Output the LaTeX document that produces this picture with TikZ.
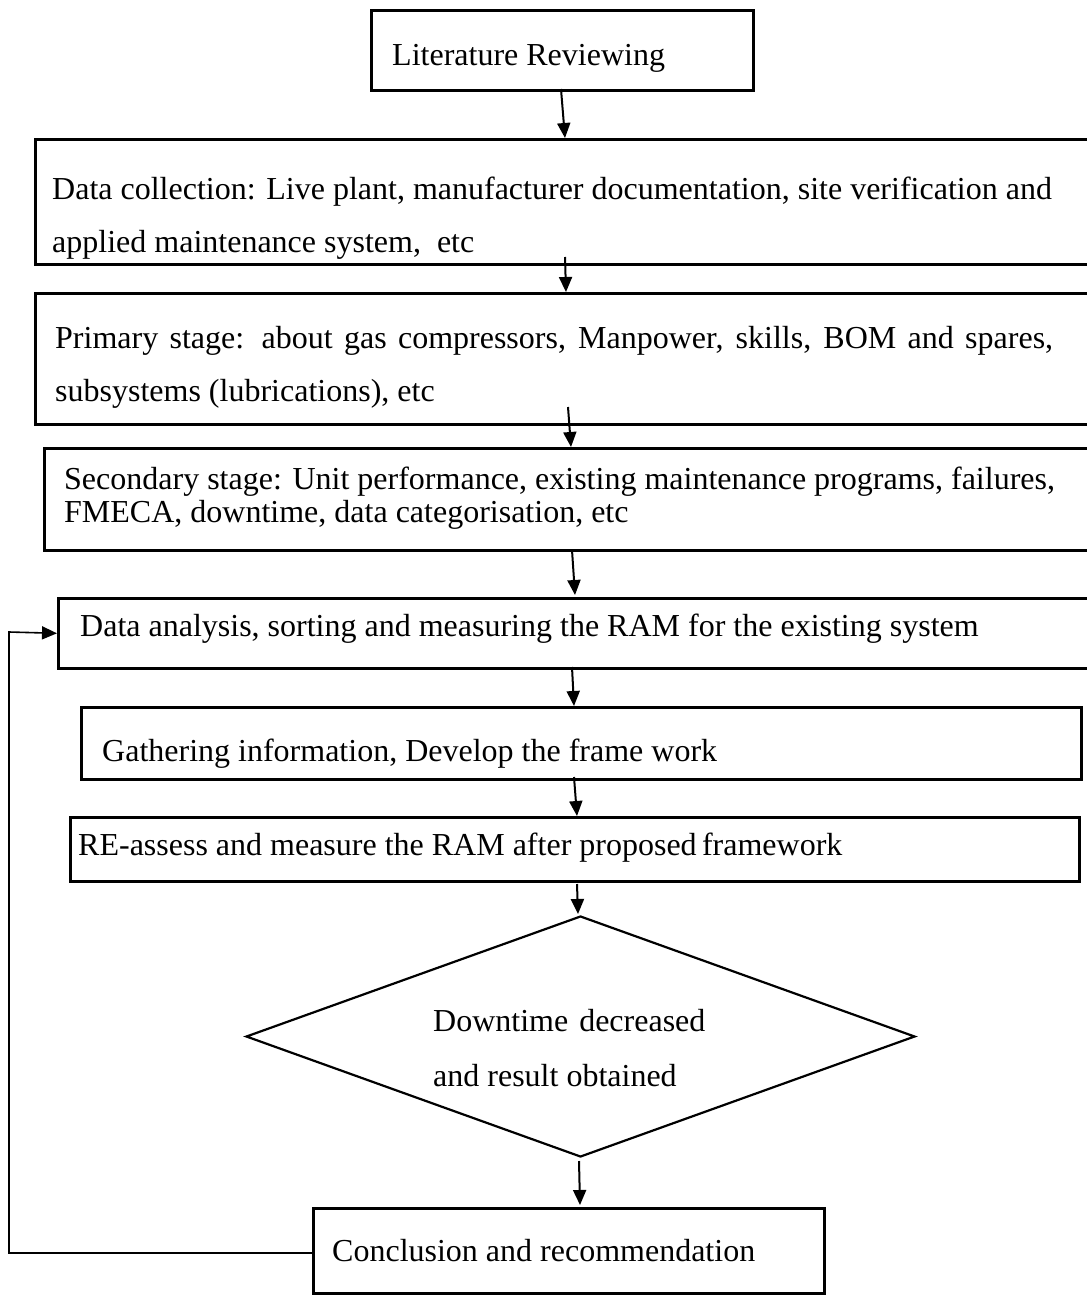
\documentclass[tikz,border=0pt]{standalone}
\usepackage{fontspec}
\setmainfont{Liberation Serif}
\usetikzlibrary{arrows.meta,shapes.geometric}
\begin{document}
\begin{tikzpicture}[x=1pt,y=-1pt,
  box/.style={draw,line width=2.6pt,rectangle,anchor=north west,inner sep=0pt},
  txt/.style={anchor=base west,inner sep=0pt,align=left,font=\fontsize{32}{53}\selectfont},
  tight/.style={font=\fontsize{32}{33}\selectfont},
  arr/.style={line width=2pt,-{Triangle[length=15pt,width=13pt]}},
  loop/.style={line width=1.6pt,-{Triangle[length=15pt,width=13pt]}}
]
\useasboundingbox (0,0) rectangle (1087,1296);
\clip (0,0) rectangle (1087,1296);

% process boxes
\node[box,minimum width=382pt,minimum height=80pt]  (b1) at (370,9)   {};
\node[box,minimum width=1066pt,minimum height=125pt] (b2) at (34,138)  {};
\node[box,minimum width=1066pt,minimum height=131pt] (b3) at (34,292)  {};
\node[box,minimum width=1057pt,minimum height=102pt] (b4) at (43,447)  {};
\node[box,minimum width=1043pt,minimum height=70pt]  (b5) at (57,597)  {};
\node[box,minimum width=1000pt,minimum height=72pt]  (b6) at (80,706)  {};
\node[box,minimum width=1009pt,minimum height=64pt]  (b7) at (69,816)  {};
\node[draw,diamond,line width=2.2pt,inner sep=0pt,minimum width=669pt,minimum height=241pt] (d) at (580.5,1036.5) {};
\node[box,minimum width=511pt,minimum height=85pt]  (b8) at (312,1207) {};

% box texts (multi-line nodes sit on the baseline of their last line)
\node[txt] (t1) at (392,65)  {Literature Reviewing};
\node[txt] (t2) at (52,252)  {Data collection: Live plant, manufacturer documentation, site verification and\\applied maintenance system,\ \ etc};
\node[txt] (t3) at (55,401)  {\makebox[998pt][s]{Primary stage: about gas compressors, Manpower, skills, BOM and spares,}\\subsystems (lubrications), etc};
\node[txt,tight] (t4) at (64,522) {Secondary stage: Unit performance, existing maintenance programs, failures,\\FMECA, downtime, data categorisation, etc};
\node[txt] (t5) at (80,636)  {Data analysis, sorting and measuring the RAM for the existing system};
\node[txt] (t6) at (102,761) {Gathering information, Develop the frame work};
\node[txt] (t7) at (78,855)  {RE-assess and measure the RAM after proposed\,framework};
\begin{scope}
  \clip (420,980) rectangle (730,1086);
  \node[txt,font=\fontsize{32}{55}\selectfont] (td) at (433,1086) {Downtime\hspace{11pt}decreased\\and result obtained};
\end{scope}
\node[txt] (t8) at (332,1261) {Conclusion and recommendation};

% arrow end points
\coordinate (s1) at (561,89);   \coordinate (e1) at (565,138);
\coordinate (s2) at (565,257);  \coordinate (e2) at (566,292);
\coordinate (s3) at (568,407);  \coordinate (e3) at (571,447);
\coordinate (s4) at (572,550);  \coordinate (e4) at (575,595);
\coordinate (s5) at (572,667);  \coordinate (e5) at (574,706);
\coordinate (s6) at (574,777);  \coordinate (e6) at (577,816);
\coordinate (s7) at (577,884);  \coordinate (e7) at (578,914);
\coordinate (s8) at (579,1161); \coordinate (e8) at (580,1205);
\coordinate (c1) at (9,1253);   \coordinate (c2) at (9,632);

% connectors
\draw[arr] (s1) -- (e1);
\draw[arr] (s2) -- (e2);
\draw[arr] (s3) -- (e3);
\draw[arr] (s4) -- (e4);
\draw[arr] (s5) -- (e5);
\draw[arr] (s6) -- (e6);
\draw[arr] (s7) -- (e7);
\draw[arr] (s8) -- (e8);
\draw[loop] (b8.west |- c1) -- (c1) -- (c2) -- (b5.west);
\end{tikzpicture}
\end{document}
